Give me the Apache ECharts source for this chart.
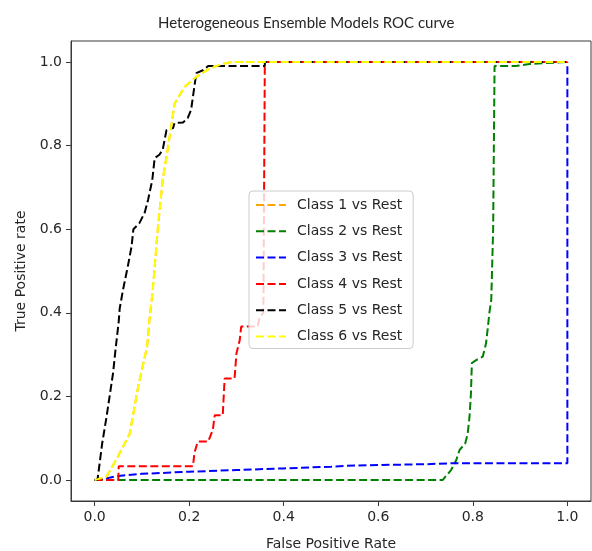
<!DOCTYPE html>
<html>
<head>
<meta charset="utf-8">
<script src="https://cdn.jsdelivr.net/npm/echarts@6/dist/echarts.min.js"></script>
<style>
	html, body { margin: 0; padding: 0; background: #ffffff; }
	#chart { width: 592px; height: 551px; }
</style>
</head>
<body>
<div id="chart"></div>
<script>
// ROC points, [false positive rate, true positive rate]
var classNames = ['Class 1 vs Rest', 'Class 2 vs Rest', 'Class 3 vs Rest', 'Class 4 vs Rest', 'Class 5 vs Rest', 'Class 6 vs Rest'];
var classColors = ['#ffa500', '#008000', '#0000ff', '#ff0000', '#000000', '#ffff00'];
var tickValues = [0, 0.2, 0.4, 0.6, 0.8, 1.0];

// class 1 is fully covered by the later curves, assumed close to class 6
var class1Roc = [[0,0],[0.025,0.008],[0.049,0.056],[0.074,0.11],[0.092,0.223],[0.111,0.319],[0.116,0.383],[0.123,0.455],[0.134,0.606],[0.144,0.718],[0.152,0.773],[0.162,0.845],[0.169,0.9],[0.19,0.94],[0.215,0.964],[0.243,0.984],[0.271,0.995],[0.29,1.0],[1.0,1.0]];
var class2Roc = [[0,0],[0.736,0],[0.754,0.024],[0.765,0.048],[0.772,0.072],[0.784,0.088],[0.789,0.11],[0.793,0.151],[0.796,0.207],[0.798,0.28],[0.807,0.287],[0.821,0.295],[0.828,0.327],[0.832,0.367],[0.835,0.4],[0.839,0.431],[0.843,0.6],[0.846,0.99],[0.89,0.99],[0.92,0.995],[1.0,1.0]];
var class3Roc = [[0,0],[0.02,0.003],[0.05,0.01],[0.1,0.015],[0.2,0.02],[0.3,0.024],[0.4,0.028],[0.5,0.032],[0.55,0.035],[0.6,0.036],[0.7,0.038],[0.75,0.04],[1.0,0.04],[1.0,1.0]];
var class4Roc = [[0,0],[0.05,0],[0.051,0.033],[0.208,0.033],[0.211,0.064],[0.218,0.092],[0.24,0.092],[0.25,0.12],[0.254,0.155],[0.271,0.155],[0.275,0.243],[0.296,0.243],[0.3,0.303],[0.307,0.335],[0.31,0.367],[0.345,0.367],[0.349,0.39],[0.357,0.4],[0.36,1.0],[1.0,1.0]];
var class5Roc = [[0,0],[0.006,0],[0.016,0.088],[0.025,0.15],[0.039,0.256],[0.044,0.31],[0.051,0.38],[0.053,0.41],[0.06,0.455],[0.07,0.51],[0.078,0.558],[0.082,0.6],[0.095,0.615],[0.106,0.64],[0.113,0.67],[0.122,0.718],[0.127,0.77],[0.137,0.778],[0.144,0.79],[0.152,0.837],[0.166,0.842],[0.169,0.854],[0.187,0.855],[0.197,0.866],[0.204,0.885],[0.215,0.973],[0.229,0.98],[0.24,0.99],[0.36,0.99],[0.36,1.0],[1.0,1.0]];
var class6Roc = [[0,0],[0.025,0.008],[0.049,0.056],[0.074,0.11],[0.092,0.223],[0.111,0.319],[0.116,0.383],[0.123,0.455],[0.134,0.606],[0.144,0.718],[0.152,0.773],[0.162,0.845],[0.169,0.9],[0.19,0.94],[0.215,0.964],[0.243,0.984],[0.271,0.995],[0.29,1.0],[1.0,1.0]];

var classRocs = [class1Roc, class2Roc, class3Roc, class4Roc, class5Roc, class6Roc];

(function()
{
	var textColor = '#262626';
	var frameColor = '#3a3a3a';
	var font = 'DejaVu Sans';

	var axisCommon = function(name, nameGap)
	{
		return {
			type: 'value',
			min: -0.05,
			max: 1.05,
			name: name,
			nameLocation: 'middle',
			nameGap: nameGap,
			nameTextStyle: { color: textColor, fontFamily: font, fontSize: 14 },
			axisLine: { show: true, onZero: false, lineStyle: { color: frameColor, width: 1 } },
			axisTick: { show: true, length: 5, customValues: tickValues, lineStyle: { color: frameColor } },
			axisLabel:
			{
				color: textColor,
				fontFamily: font,
				fontSize: 14,
				margin: 9,
				customValues: tickValues,
				formatter: function(v) { return v.toFixed(1); }
			},
			splitLine: { show: false }
		};
	};

	var series = [];
	for (var i = 0; i < classRocs.length; i++)
	{
		series.push(
		{
			name: classNames[i],
			type: 'line',
			data: classRocs[i],
			showSymbol: false,
			symbol: 'none',
			animation: false,
			color: classColors[i],
			lineStyle: { color: classColors[i], width: 2, type: [8, 3.5] }
		});
	}

	var options =
	{
		animation: false,
		backgroundColor: '#ffffff',
		title:
		{
			text: 'Heterogeneous Ensemble Models ROC curve',
			left: 158,
			top: 16,
			padding: 0,
			textStyle: { color: textColor, fontFamily: 'Lato', fontSize: 15, fontWeight: 'normal' }
		},
		grid:
		{
			left: 71,
			right: 1,
			top: 41,
			bottom: 50,
			outerBoundsMode: 'none',
			containLabel: false,
			show: true,
			borderColor: frameColor,
			borderWidth: 1
		},
		legend:
		{
			orient: 'vertical',
			left: 249,
			top: 191,
			itemWidth: 30,
			itemHeight: 14,
			itemGap: 12.3,
			padding: [7, 11, 5, 6],
			backgroundColor: 'rgba(255,255,255,0.8)',
			borderColor: '#cccccc',
			borderWidth: 1,
			borderRadius: 4,
			itemStyle: { opacity: 0 },
			textStyle: { color: textColor, fontFamily: font, fontSize: 14, padding: [0, 0, 0, 6] },
			data: classNames
		},
		xAxis: axisCommon('False Positive Rate', 36),
		yAxis: axisCommon('True Positive rate', 34),
		series: series
	};

	var chart = echarts.init(document.getElementById('chart'), null, { renderer: 'canvas' });
	chart.setOption(options);
})();
</script>
</body>
</html>
